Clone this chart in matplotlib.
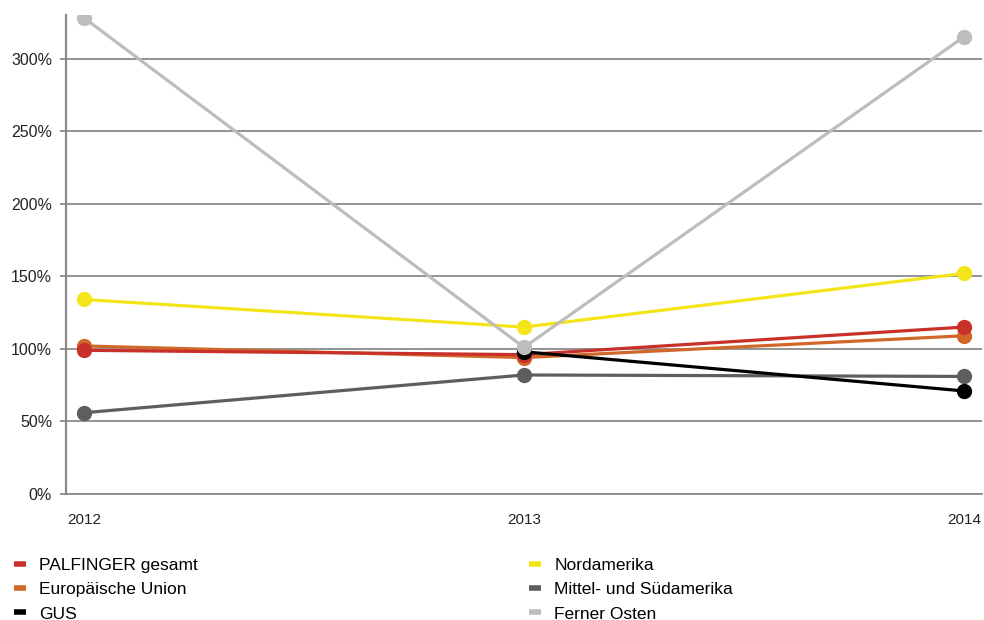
import matplotlib
matplotlib.use("Agg")
import matplotlib.pyplot as plt
from matplotlib.lines import Line2D
from matplotlib.ticker import FuncFormatter
import numpy as np

years = ["2012", "2013", "2014"]
palfinger = [99, 96, 115]
eu = [102, 94, 109]
gus = [None, 98, 71]
nordamerika = [134, 115, 152]
mittel_sued = [56, 82, 81]
ferner_osten = [328, 101, 315]

yticks = [0, 50, 100, 150, 200, 250, 300]

series = [
    ("Europäische Union", eu, "#d2672a"),
    ("PALFINGER gesamt", palfinger, "#c9302a"),
    ("Mittel- und Südamerika", mittel_sued, "#5e5e5e"),
    ("Nordamerika", nordamerika, "#f3e51a"),
    ("GUS", gus, "#000000"),
    ("Ferner Osten", ferner_osten, "#bdbdbd"),
]
colors = {name: c for name, _, c in series}

plt.rcParams['font.family'] = ['Liberation Sans Narrow', 'Liberation Sans', 'DejaVu Sans']

fig = plt.figure(figsize=(9.84, 6.2), dpi=100)
ax = fig.add_axes([66/984, 126/620, (982-66)/984, (605-126)/620])

x = np.arange(len(years))
for name, vals, c in series:
    xs = [xi for xi, v in zip(x, vals) if v is not None]
    ys = [v for v in vals if v is not None]
    ax.plot(xs, ys, color=c, lw=2.3, marker='o', ms=10, solid_capstyle='butt', zorder=3)

ax.set_xlim(-0.041, 2.041)
ax.set_ylim(0, 330)
ax.set_yticks(yticks)
ax.yaxis.set_major_formatter(FuncFormatter(lambda v, p: f"{int(v)}%"))
ax.set_xticks(x)
ax.set_xticklabels(years)
ax.grid(axis='y', color='#8a8a8a', lw=1.3, zorder=1)
ax.set_axisbelow(True)
for s in ['top', 'right']:
    ax.spines[s].set_visible(False)
ax.spines['left'].set_color('#8a8a8a')
ax.spines['left'].set_linewidth(1.6)
ax.spines['bottom'].set_color('#8a8a8a')
ax.spines['bottom'].set_linewidth(1.3)
ax.tick_params(axis='y', length=4, width=1.3, color='#8a8a8a', labelsize=11.5, pad=6, labelcolor='#222222')
ax.tick_params(axis='x', length=0, labelsize=11, pad=14, labelcolor='#222222')

def handles(names):
    return [Line2D([0], [0], color=colors[n], lw=4, solid_capstyle='butt') for n in names]

left_names = ["PALFINGER gesamt", "Europäische Union", "GUS"]
right_names = ["Nordamerika", "Mittel- und Südamerika", "Ferner Osten"]
kw = dict(frameon=False, fontsize=12.5, handlelength=0.7, handletextpad=0.75,
          labelspacing=0.52, borderaxespad=0, borderpad=0)
fig.legend(handles(left_names), left_names, loc='upper left',
           bbox_to_anchor=(14/984, 1 - 558/620), **kw)
fig.legend(handles(right_names), right_names, loc='upper left',
           bbox_to_anchor=(529/984, 1 - 558/620), **kw)

fig.savefig("out.png", dpi=100)
